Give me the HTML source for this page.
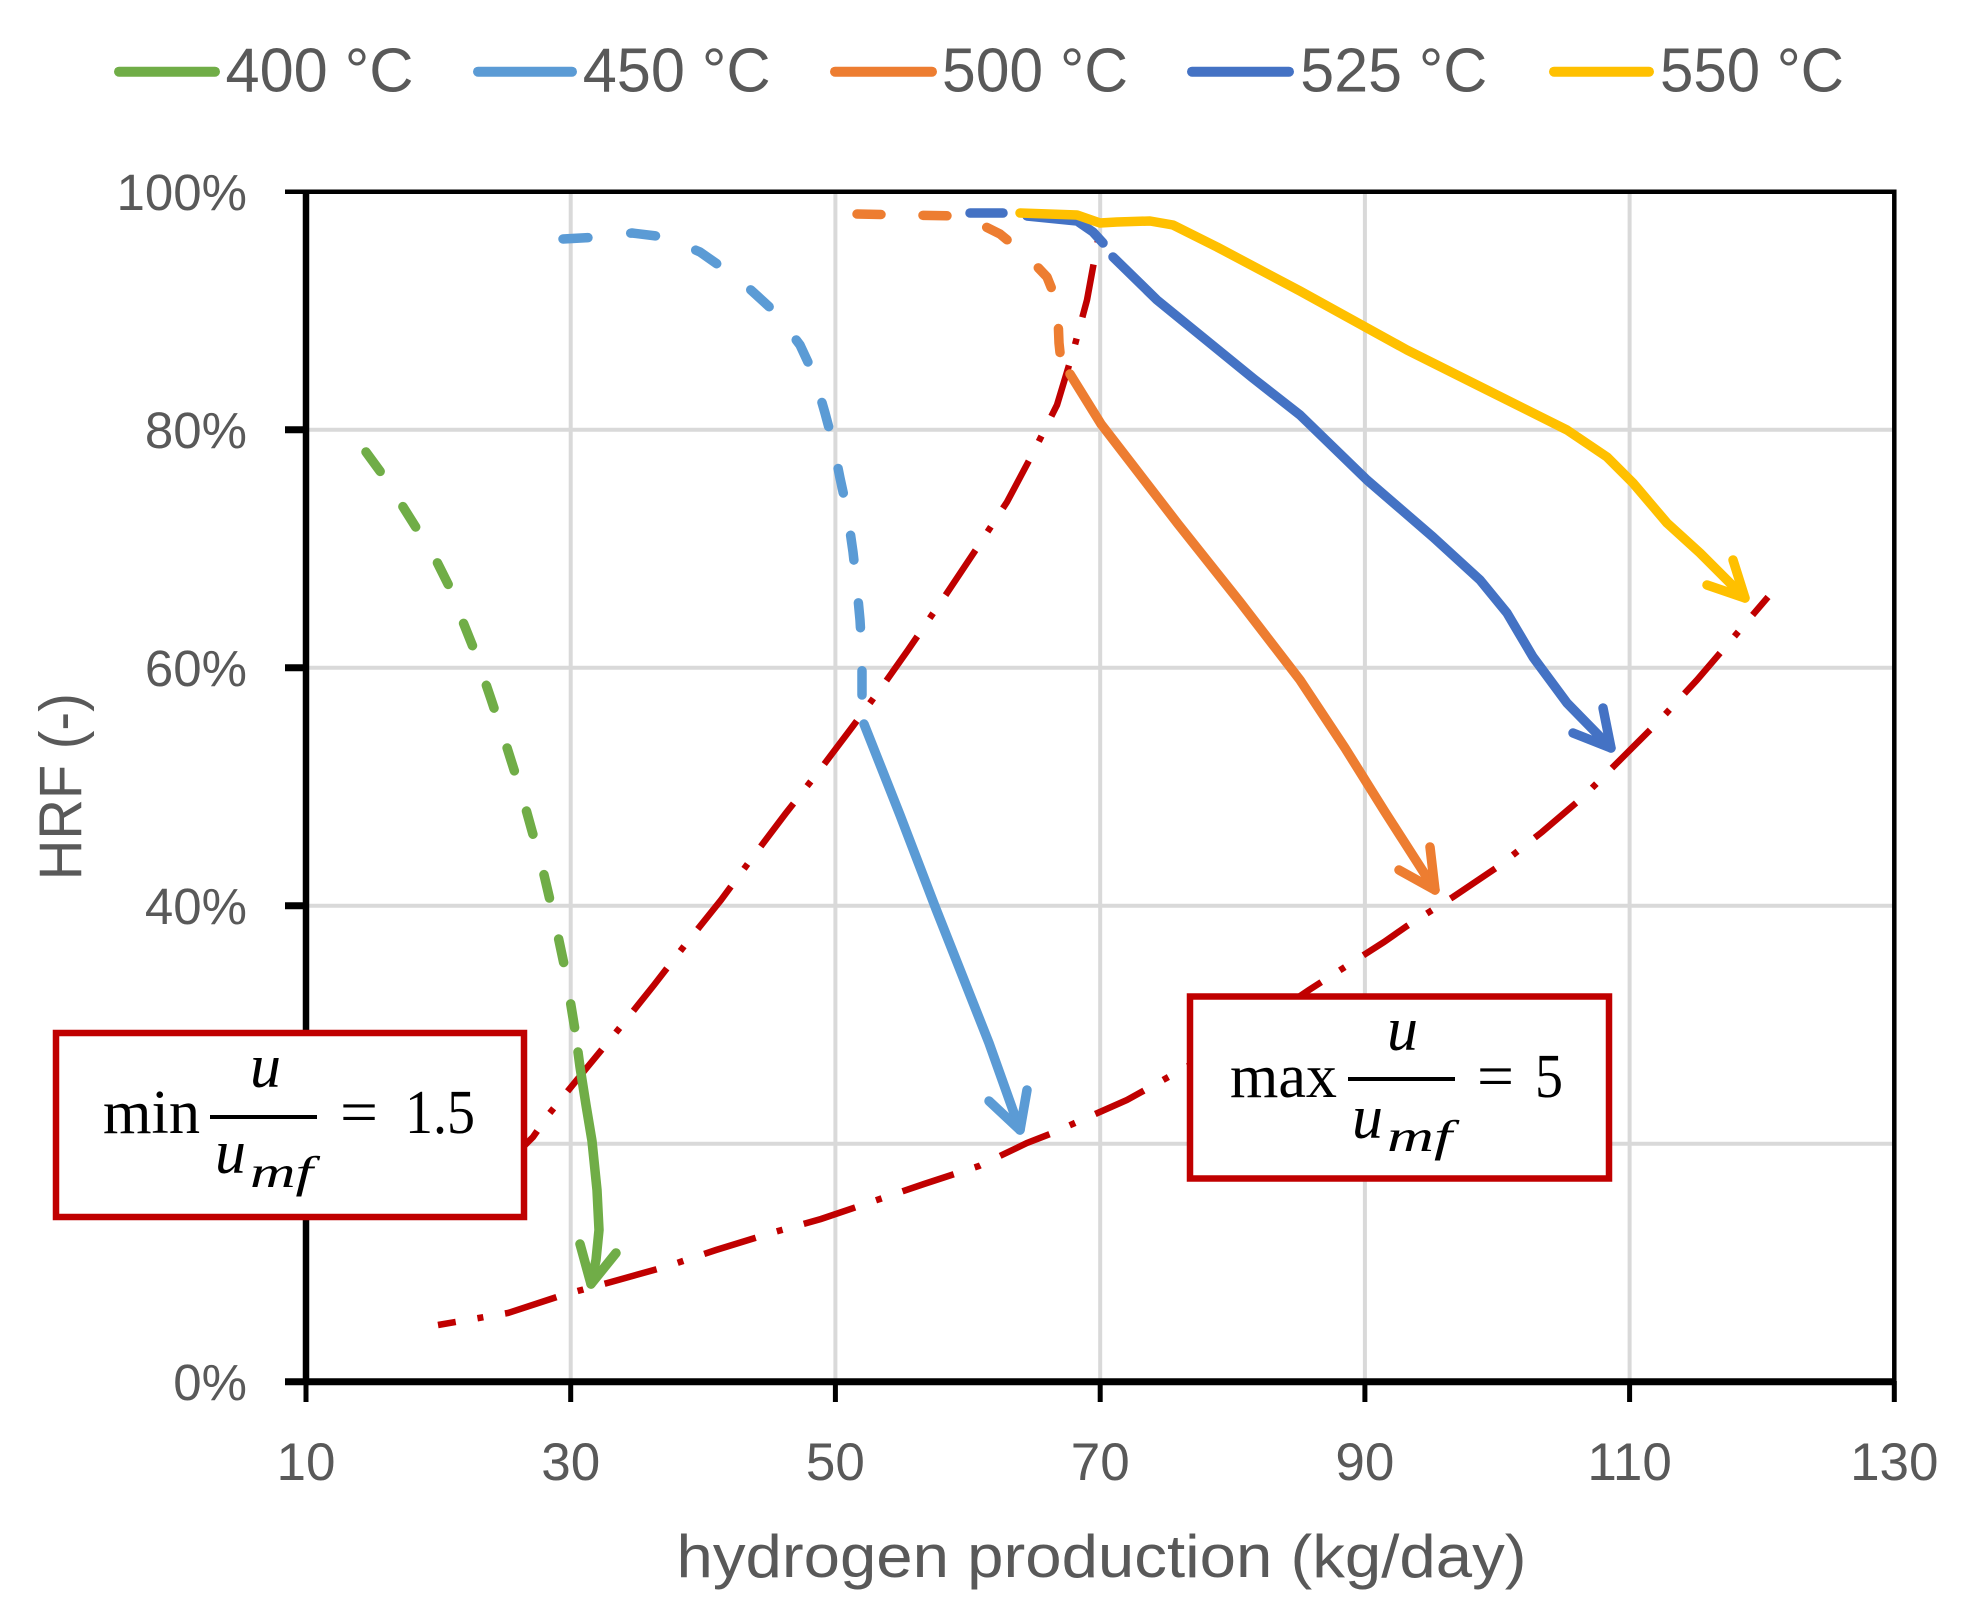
<!DOCTYPE html>
<html>
<head>
<meta charset="utf-8">
<style>
html,body{margin:0;padding:0;background:#fff;}
svg{display:block;}
</style>
</head>
<body>
<svg xmlns="http://www.w3.org/2000/svg" width="1964" height="1619" viewBox="0 0 1964 1619">
<rect x="0" y="0" width="1964" height="1619" fill="#fff"/>

<!-- gridlines -->
<g stroke="#D9D9D9" stroke-width="4">
<line x1="570.7" y1="192" x2="570.7" y2="1381"/>
<line x1="835.4" y1="192" x2="835.4" y2="1381"/>
<line x1="1100.2" y1="192" x2="1100.2" y2="1381"/>
<line x1="1364.9" y1="192" x2="1364.9" y2="1381"/>
<line x1="1629.6" y1="192" x2="1629.6" y2="1381"/>
<line x1="306" y1="429.7" x2="1894" y2="429.7"/>
<line x1="306" y1="667.7" x2="1894" y2="667.7"/>
<line x1="306" y1="905.7" x2="1894" y2="905.7"/>
<line x1="306" y1="1143.7" x2="1894" y2="1143.7"/>
</g>

<!-- axes -->
<g stroke="#000" fill="none">
<line x1="285" y1="191.7" x2="1896.5" y2="191.7" stroke-width="4.5"/>
<line x1="1894.3" y1="189.5" x2="1894.3" y2="1385" stroke-width="4.5"/>
<line x1="306" y1="189.5" x2="306" y2="1385" stroke-width="6.5"/>
<line x1="285" y1="1381.7" x2="1896.5" y2="1381.7" stroke-width="7"/>
<g stroke-width="7">
<line x1="285" y1="429.7" x2="306" y2="429.7"/>
<line x1="285" y1="667.7" x2="306" y2="667.7"/>
<line x1="285" y1="905.7" x2="306" y2="905.7"/>
<line x1="285" y1="1143.7" x2="306" y2="1143.7"/>
</g>
<g stroke-width="5">
<line x1="306" y1="1381" x2="306" y2="1402"/>
<line x1="570.7" y1="1381" x2="570.7" y2="1402"/>
<line x1="835.4" y1="1381" x2="835.4" y2="1402"/>
<line x1="1100.2" y1="1381" x2="1100.2" y2="1402"/>
<line x1="1364.9" y1="1381" x2="1364.9" y2="1402"/>
<line x1="1629.6" y1="1381" x2="1629.6" y2="1402"/>
<line x1="1894.3" y1="1381" x2="1894.3" y2="1402"/>
</g>
</g>

<!-- y tick labels -->
<g font-family="Liberation Sans, sans-serif" font-size="51" fill="#595959" text-anchor="end">
<text x="247" y="210">100%</text>
<text x="247" y="448">80%</text>
<text x="247" y="686">60%</text>
<text x="247" y="924">40%</text>
<text x="247" y="1162">20%</text>
<text x="247" y="1400">0%</text>
</g>

<!-- x tick labels -->
<g font-family="Liberation Sans, sans-serif" font-size="53" fill="#595959" text-anchor="middle">
<text x="306" y="1480">10</text>
<text x="570.7" y="1480">30</text>
<text x="835.4" y="1480">50</text>
<text x="1100.2" y="1480">70</text>
<text x="1364.9" y="1480">90</text>
<text x="1629.6" y="1480">110</text>
<text x="1894.3" y="1480">130</text>
</g>

<!-- axis titles -->
<text x="1101.5" y="1577" font-family="Liberation Sans, sans-serif" font-size="60" fill="#595959" text-anchor="middle" textLength="850" lengthAdjust="spacingAndGlyphs">hydrogen production (kg/day)</text>
<text transform="translate(81.7,786.7) rotate(-90)" x="0" y="0" font-family="Liberation Sans, sans-serif" font-size="60" fill="#595959" text-anchor="middle" textLength="187" lengthAdjust="spacingAndGlyphs">HRF (-)</text>

<!-- legend -->
<g stroke-width="10" stroke-linecap="round">
<line x1="119" y1="71.7" x2="215" y2="71.7" stroke="#70AD47"/>
<line x1="478" y1="71.7" x2="572" y2="71.7" stroke="#5B9BD5"/>
<line x1="835" y1="71.7" x2="932" y2="71.7" stroke="#ED7D31"/>
<line x1="1192" y1="71.7" x2="1289" y2="71.7" stroke="#4472C4"/>
<line x1="1554" y1="71.7" x2="1649" y2="71.7" stroke="#FFC000"/>
</g>
<g font-family="Liberation Sans, sans-serif" font-size="62" fill="#595959">
<text x="225.5" y="91.7" textLength="188" lengthAdjust="spacingAndGlyphs">400 °C</text>
<text x="582.7" y="91.7" textLength="188" lengthAdjust="spacingAndGlyphs">450 °C</text>
<text x="942" y="91.7" textLength="186" lengthAdjust="spacingAndGlyphs">500 °C</text>
<text x="1300.3" y="91.7" textLength="187" lengthAdjust="spacingAndGlyphs">525 °C</text>
<text x="1660" y="91.7" textLength="184" lengthAdjust="spacingAndGlyphs">550 °C</text>
</g>

<!-- red dash-dot boundary curves -->
<g fill="none" stroke="#C00000" stroke-width="6.5" stroke-dasharray="54 22 6 22">
<path d="M500,1170 L533,1137 L549,1114 L585,1070 L618,1030 L654,985 L685,945 L721,900 L752,858 L786,813 L819,771 L853,726 L884,684 L908,650 L947,593 L977,548 L1007,502 L1033,453 L1057,405 L1073,352 L1087,300 L1098,240"/>
<path stroke-dashoffset="36" d="M438,1325 L508,1313 L563,1295 L611,1282 L668,1266 L716,1250 L771,1233 L821,1219 L874,1201 L924,1184 L979,1166 L1027,1143 L1050,1134 L1127,1100 L1190,1065 L1250,1030 L1309,990 L1384,942 L1407,926 L1453,897 L1499,866 L1542,832 L1583,797 L1622,758 L1660,720 L1697,680 L1733,638 L1768,597"/>
</g>

<!-- series -->
<g fill="none" stroke-width="9.5" stroke-linecap="round" stroke-linejoin="round">
<!-- 400 -->
<path stroke="#70AD47" stroke-dasharray="24 42" d="M366,452 L385,478 L405,510 L422,537 L435,558 L450,588 L463,622 L475,652 L491,699 L503,735 L522,795 L532,831 L541,862 L549,896 L558,936 L565,969 L575,1030"/>
<path stroke="#70AD47" d="M578,1052 L580,1067 L586,1105 L592,1141 L597,1190 L599,1230 L596,1260 L591,1284"/>
<path stroke="#70AD47" d="M580,1244 L591,1284 L616,1253"/>
<!-- 450 -->
<path stroke="#5B9BD5" stroke-dasharray="25 43" d="M563,239 L600,237 L632,233 L665,237 L700,252 L740,280 L776,313 L800,345 L814,375 L825,413 L833,443 L840,478 L847,510 L853,552 L857,588 L860,620 L862,655 L862,695"/>
<path stroke="#5B9BD5" d="M864,724 L900,815 L936,909 L989,1043 L1020,1130"/>
<path stroke="#5B9BD5" d="M989,1101 L1020,1130 L1027,1090"/>
<!-- 500 -->
<path stroke="#ED7D31" stroke-dasharray="24 42" d="M857,214 L957,216 L972,220 L1000,234 L1028,257 L1047,277 L1055,297 L1058,317 L1059,343 L1061,362"/>
<path stroke="#ED7D31" d="M1070,374 L1101,424 L1178,524 L1240,602 L1300,680 L1345,748 L1385,812 L1435,890"/>
<path stroke="#ED7D31" d="M1399,870 L1435,890 L1430,847"/>
<!-- 525 -->
<path stroke="#4472C4" d="M970,213 L1003,213"/>
<path stroke="#4472C4" d="M1027,216 L1077,221 L1093,232 L1103,243"/>
<path stroke="#4472C4" d="M1113,257 L1157,300 L1254,379 L1300,415 L1367,480 L1433,537 L1480,580 L1507,613 L1533,657 L1567,703 L1611,748"/>
<path stroke="#4472C4" d="M1573,733 L1611,748 L1603,708"/>
<!-- 550 -->
<path stroke="#FFC000" d="M1020,213 L1077,215 L1100,223 L1117,222 L1150,221 L1173,225 L1217,247 L1300,291 L1407,350 L1487,390 L1567,430 L1607,457 L1633,483 L1667,523 L1700,553 L1745,598"/>
<path stroke="#FFC000" d="M1707,585 L1745,598 L1733,560"/>
</g>

<!-- annotation boxes -->
<rect x="56" y="1033" width="468" height="184" fill="#fff" stroke="#C00000" stroke-width="6.5"/>
<rect x="1190" y="996.5" width="419" height="182" fill="#fff" stroke="#C00000" stroke-width="6.5"/>

<g font-family="Liberation Serif, serif" fill="#000">
<text x="103" y="1133" font-size="62" textLength="97" lengthAdjust="spacingAndGlyphs">min</text>
<text x="250" y="1087" font-size="62" font-style="italic">u</text>
<text x="215" y="1173" font-size="62" font-style="italic">u</text>
<text x="250" y="1187" font-size="44" font-style="italic" textLength="63" lengthAdjust="spacingAndGlyphs">mf</text>
<text x="340" y="1133" font-size="62" textLength="38" lengthAdjust="spacingAndGlyphs">=</text>
<text x="405" y="1133" font-size="62" textLength="70" lengthAdjust="spacingAndGlyphs">1.5</text>

<text x="1230" y="1097" font-size="62" textLength="107" lengthAdjust="spacingAndGlyphs">max</text>
<text x="1387" y="1050" font-size="62" font-style="italic">u</text>
<text x="1352" y="1138" font-size="62" font-style="italic">u</text>
<text x="1387" y="1151" font-size="44" font-style="italic" textLength="65" lengthAdjust="spacingAndGlyphs">mf</text>
<text x="1477" y="1097" font-size="62" textLength="37" lengthAdjust="spacingAndGlyphs">=</text>
<text x="1535" y="1097" font-size="62" textLength="28" lengthAdjust="spacingAndGlyphs">5</text>
</g>
<g stroke="#000" stroke-width="4">
<line x1="210" y1="1117" x2="317" y2="1117"/>
<line x1="1348" y1="1079" x2="1455" y2="1079"/>
</g>
</svg>
</body>
</html>
